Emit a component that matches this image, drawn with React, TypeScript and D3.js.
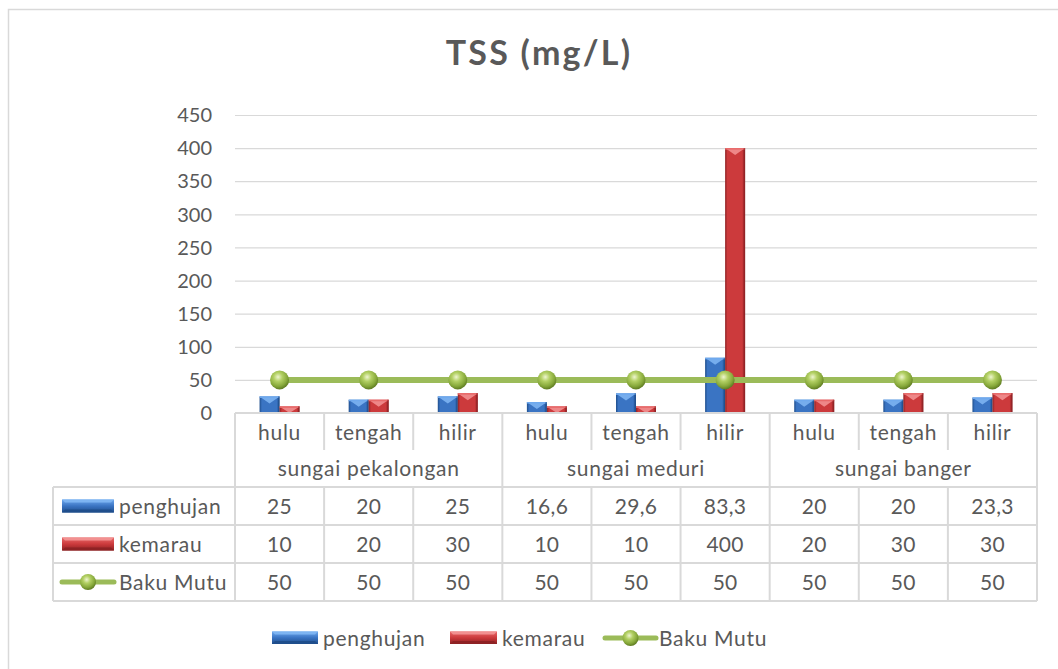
import React from "react";
import * as d3 from "d3";

const categories = ["hulu", "tengah", "hilir", "hulu", "tengah", "hilir", "hulu", "tengah", "hilir"];
const groups = ["sungai pekalongan", "sungai meduri", "sungai banger"];
const penghujan = [25, 20, 25, 16.6, 29.6, 83.3, 20, 20, 23.3];
const kemarau = [10, 20, 30, 10, 10, 400, 20, 30, 30];
const bakuMutu = [50, 50, 50, 50, 50, 50, 50, 50, 50];
const yTicks = [0, 50, 100, 150, 200, 250, 300, 350, 400, 450];

const W = 1058;
const H = 669;
const FONT = "Lato, 'Open Sans', sans-serif";
const TXT = "#595959";
const GRID = "#D9D9D9";
const FS = 21;
const LS = 0.7;

const fmt = (v: number) => String(v).replace(".", ",");

const palettes = {
  blue: { dark: "#1F4E8C", base: "#3A74C3", light: "#6FA9EE", top: "#7DB4F2" },
  red: { dark: "#8E2224", base: "#CC3A3C", light: "#E86A6A", top: "#F29090" },
};

function Bar({ x, y, w, h, kind }: { x: number; y: number; w: number; h: number; kind: "blue" | "red" }) {
  const p = palettes[kind];
  const t = Math.min(7, h, w / 2);
  return (
    <g>
      <rect x={x} y={y} width={w} height={h} fill={`url(#grad-${kind})`} />
      <polygon points={`${x},${y} ${x + w},${y} ${x + w / 2},${y + t}`} fill={p.top} opacity={0.9} />
      <rect x={x} y={y} width={w} height={Math.min(1.5, h)} fill={p.light} />
      <rect x={x + w - 1.5} y={y} width={1.5} height={h} fill={p.dark} opacity={0.6} />
    </g>
  );
}

function Swatch({ x, y, w, h, kind }: { x: number; y: number; w: number; h: number; kind: "blue" | "red" }) {
  const p = palettes[kind];
  return (
    <g>
      <rect x={x} y={y} width={w} height={h} fill={`url(#sw-${kind})`} />
      <polygon points={`${x},${y} ${x + w},${y} ${x + w - 3},${y + 3} ${x + 3},${y + 3}`} fill={p.top} />
      <polygon points={`${x},${y + h} ${x + w},${y + h} ${x + w - 3},${y + h - 3} ${x + 3},${y + h - 3}`} fill={p.dark} />
    </g>
  );
}

function LineKey({ x, y, w }: { x: number; y: number; w: number }) {
  return (
    <g>
      <line x1={x} x2={x + w} y1={y} y2={y} stroke="#9BBB59" strokeWidth={5} strokeLinecap="round" />
      <circle cx={x + w / 2} cy={y} r={8} fill="url(#sphere)" />
    </g>
  );
}

export default function App() {
  const plotL = 235;
  const plotR = 1037;
  const y = d3.scaleLinear().domain([0, 450]).range([413, 115]);
  const idx = categories.map((_, i) => String(i));
  const x0 = d3.scaleBand().domain(idx).range([plotL, plotR]).paddingInner(0).paddingOuter(0);
  const bw = x0.bandwidth();
  const x1 = d3.scaleBand().domain(["p", "k"]).range([0, 40]).padding(0);
  const cx = (i: number) => (x0(String(i)) as number) + bw / 2;

  const line = d3
    .line<number>()
    .x((_, i) => cx(i))
    .y((d) => y(d));

  const rowTops = [487, 525, 563, 601];
  const tableL = 53;
  const txt = { fontFamily: FONT, fontSize: FS, fill: TXT, letterSpacing: LS } as const;
  const num = { fontFamily: FONT, fontSize: FS, fill: TXT, letterSpacing: 0.3 } as const;

  return (
    <svg width={W} height={H} style={{ position: "absolute", left: 0, top: 0, background: "#fff" }}>
      <defs>
        {(["blue", "red"] as const).map((k) => {
          const p = palettes[k];
          return (
            <React.Fragment key={k}>
              <linearGradient id={`grad-${k}`} x1="0" x2="1" y1="0" y2="0">
                <stop offset="0%" stopColor={p.dark} />
                <stop offset="12%" stopColor={p.base} />
                <stop offset="50%" stopColor={p.base} />
                <stop offset="85%" stopColor={p.base} />
                <stop offset="100%" stopColor={p.dark} />
              </linearGradient>
              <linearGradient id={`sw-${k}`} x1="0" x2="0" y1="0" y2="1">
                <stop offset="0%" stopColor={p.light} />
                <stop offset="50%" stopColor={p.base} />
                <stop offset="100%" stopColor={p.dark} />
              </linearGradient>
            </React.Fragment>
          );
        })}
        <radialGradient id="sphere" cx="42%" cy="35%" r="65%">
          <stop offset="0%" stopColor="#EEF5CF" />
          <stop offset="35%" stopColor="#B3D064" />
          <stop offset="75%" stopColor="#86A83A" />
          <stop offset="100%" stopColor="#5F7C22" />
        </radialGradient>
      </defs>

      <rect x={8.5} y={9.5} width={1060} height={700} fill="#fff" stroke={GRID} strokeWidth={1.5} />

      <text x={539} y={65} textAnchor="middle" fontFamily={FONT} fontWeight={700} fontSize={34} letterSpacing={2.2} fill={TXT}>
        TSS (mg/L)
      </text>

      {/* gridlines */}
      {yTicks.slice(1).map((t) => (
        <line key={t} x1={plotL} x2={plotR} y1={y(t) + 0.5} y2={y(t) + 0.5} stroke={GRID} strokeWidth={1.2} />
      ))}
      {yTicks.map((t) => (
        <text key={t} x={212} y={y(t)} dy="0.36em" textAnchor="end" fontFamily={FONT} fontSize={20} fill={TXT}>
          {t}
        </text>
      ))}

      {/* bars */}
      {categories.map((_, i) => {
        const left = cx(i) - 20;
        return (
          <g key={i}>
            <Bar x={left + (x1("p") as number)} y={y(penghujan[i])} w={x1.bandwidth()} h={y(0) - y(penghujan[i])} kind="blue" />
            <Bar x={left + (x1("k") as number)} y={y(kemarau[i])} w={x1.bandwidth()} h={y(0) - y(kemarau[i])} kind="red" />
          </g>
        );
      })}

      {/* line */}
      <path d={line(bakuMutu) as string} fill="none" stroke="#9BBB59" strokeWidth={6} />
      {bakuMutu.map((v, i) => (
        <circle key={i} cx={cx(i)} cy={y(v)} r={9.5} fill="url(#sphere)" />
      ))}

      {/* table lines */}
      <line x1={plotL} x2={plotR} y1={413} y2={413} stroke={GRID} strokeWidth={2} />
      {rowTops.map((ry) => (
        <line key={ry} x1={tableL} x2={plotR} y1={ry} y2={ry} stroke={GRID} strokeWidth={2} />
      ))}
      <line x1={tableL} x2={tableL} y1={487} y2={601} stroke={GRID} strokeWidth={2} />
      {d3.range(categories.length + 1).map((i) => {
        const bx = plotL + i * bw;
        const isGroup = i % 3 === 0;
        return (
          <g key={i}>
            {isGroup ? (
              <line x1={bx} x2={bx} y1={413} y2={601} stroke={GRID} strokeWidth={2} />
            ) : (
              <>
                <line x1={bx} x2={bx} y1={413} y2={450} stroke={GRID} strokeWidth={2} />
                <line x1={bx} x2={bx} y1={487} y2={601} stroke={GRID} strokeWidth={2} />
              </>
            )}
          </g>
        );
      })}

      {/* category labels */}
      {categories.map((c, i) => (
        <text key={i} x={cx(i)} y={432} dy="0.36em" textAnchor="middle" {...txt}>
          {c}
        </text>
      ))}
      {groups.map((g, gi) => (
        <text key={g} x={plotL + (gi * 3 + 1.5) * bw} y={468} dy="0.36em" textAnchor="middle" {...txt}>
          {g}
        </text>
      ))}

      {/* table rows */}
      {[
        { name: "penghujan", vals: penghujan, kind: "blue" },
        { name: "kemarau", vals: kemarau, kind: "red" },
        { name: "Baku Mutu", vals: bakuMutu, kind: "line" },
      ].map((r, ri) => {
        const cy = (rowTops[ri] + rowTops[ri + 1]) / 2;
        return (
          <g key={r.name}>
            {r.kind === "line" ? (
              <LineKey x={62} y={cy} w={52} />
            ) : (
              <Swatch x={62} y={cy - 6.5} w={52} h={13} kind={r.kind as "blue" | "red"} />
            )}
            <text x={119} y={cy} dy="0.36em" {...txt}>
              {r.name}
            </text>
            {r.vals.map((v, i) => (
              <text key={i} x={cx(i)} y={cy} dy="0.36em" textAnchor="middle" {...num}>
                {fmt(v)}
              </text>
            ))}
          </g>
        );
      })}

      {/* legend */}
      <Swatch x={272} y={631.5} w={46} h={12.5} kind="blue" />
      <text x={323} y={638} dy="0.36em" {...txt}>penghujan</text>
      <Swatch x={450} y={631.5} w={47} h={12.5} kind="red" />
      <text x={502} y={638} dy="0.36em" {...txt}>kemarau</text>
      <LineKey x={605} y={638} w={51} />
      <text x={659} y={638} dy="0.36em" {...txt}>Baku Mutu</text>
    </svg>
  );
}
